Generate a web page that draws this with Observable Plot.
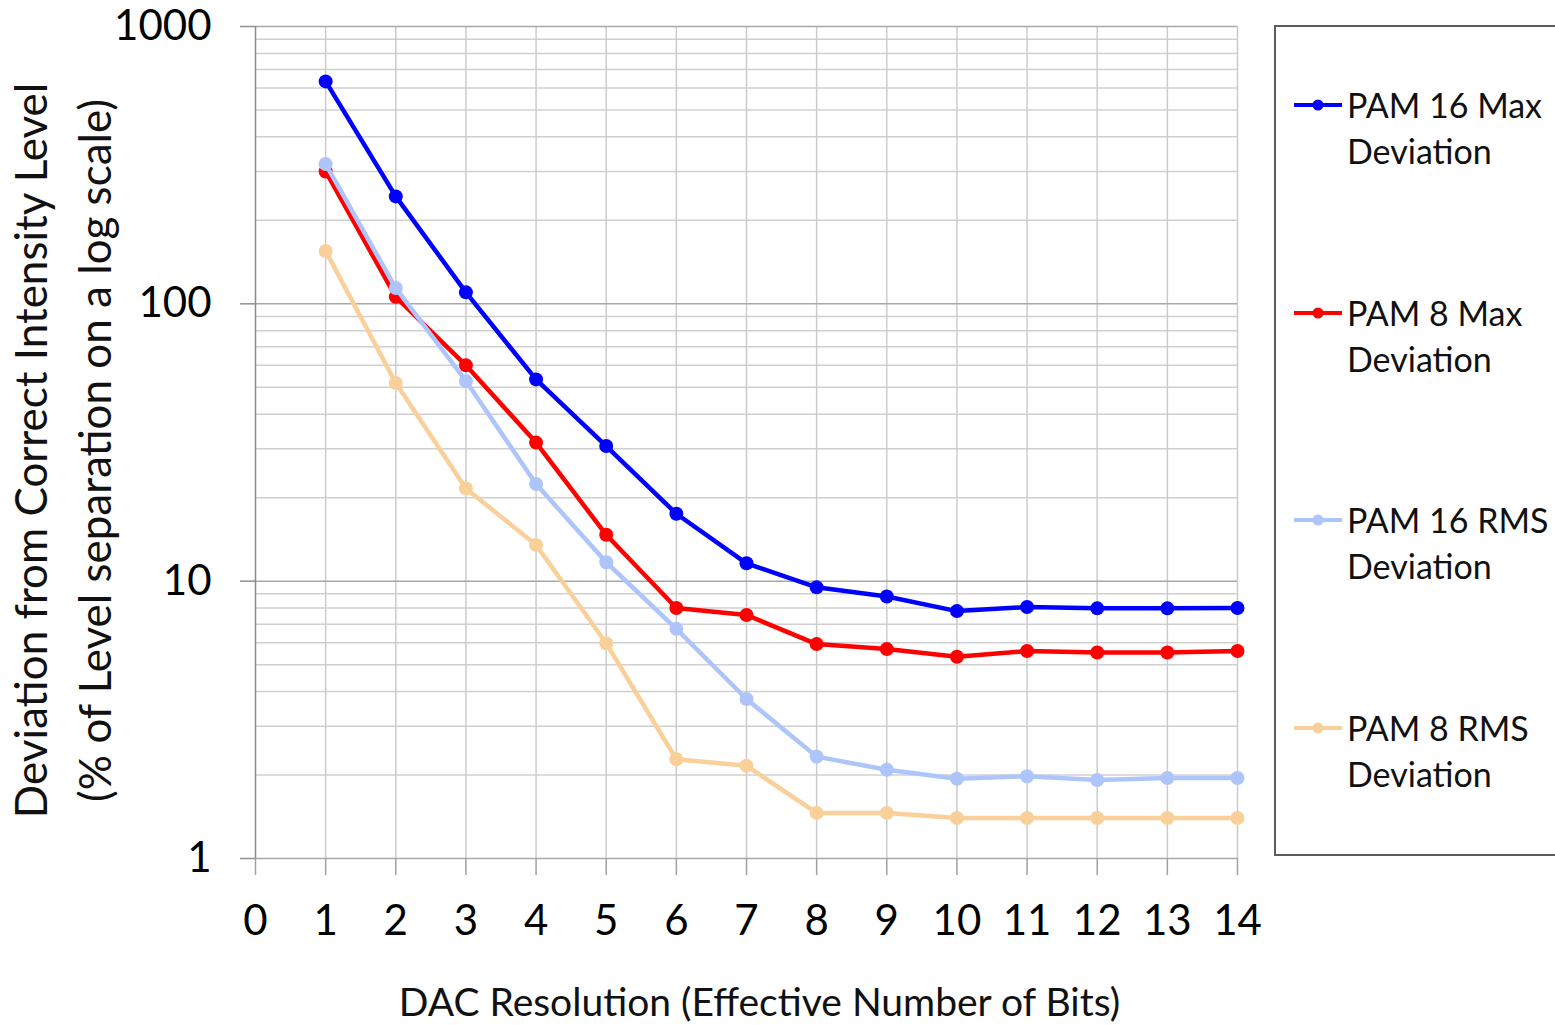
<!DOCTYPE html>
<html>
<head>
<meta charset="utf-8">
<script src="https://cdn.jsdelivr.net/npm/d3@7"></script>
<script src="https://cdn.jsdelivr.net/npm/@observablehq/plot@0.6"></script>
<style>
  html, body { margin: 0; padding: 0; background: #fff; overflow: hidden; }
  #chart { position: relative; width: 1555px; height: 1025px; font-family: Lato, "Open Sans", sans-serif; }
  #chart > svg { position: absolute; left: 0; top: 0; }
  #legend { position: absolute; left: 1274px; top: 25px; width: 340px; height: 831px;
            border: 2px solid #5c5c5c; box-sizing: border-box; background: #fff; }
  .entry { position: absolute; left: 17px; display: flex; align-items: flex-start; }
  .entry svg { display: block; flex: none; }
  .entry .name { margin-left: 4px; font-size: 34px; line-height: 46px; color: #111; white-space: nowrap; }
</style>
</head>
<body>
<div id="chart"></div>
<script>
// DAC resolution in effective bits
const bits = [1, 2, 3, 4, 5, 6, 7, 8, 9, 10, 11, 12, 13, 14];

// Deviation from the correct intensity level, % of level separation
const pam16Max = [634, 244, 110, 53.4, 30.7, 17.5, 11.6, 9.5, 8.8, 7.8, 8.07, 7.98, 7.98, 8.0];
const pam8Max  = [300, 106, 60, 31.6, 14.7, 8.0, 7.55, 5.93, 5.69, 5.34, 5.6, 5.53, 5.53, 5.6];
const pam16Rms = [319, 114, 52.7, 22.4, 11.7, 6.73, 3.76, 2.33, 2.09, 1.94, 1.98, 1.92, 1.95, 1.95];
const pam8Rms  = [155, 51.8, 21.6, 13.5, 5.97, 2.28, 2.16, 1.46, 1.46, 1.40, 1.40, 1.40, 1.40, 1.40];

const seriesNames = ["PAM 16 Max Deviation", "PAM 8 Max Deviation", "PAM 16 RMS Deviation", "PAM 8 RMS Deviation"];
const seriesValues = [pam16Max, pam8Max, pam16Rms, pam8Rms];
const seriesColors = ["#0000ff", "#ff0000", "#adc5fa", "#f9d09a"];

// Axis ticks
const xTicks = [0, 1, 2, 3, 4, 5, 6, 7, 8, 9, 10, 11, 12, 13, 14];
const yMajor = [1, 10, 100, 1000];
const yMinor = [2, 3, 4, 5, 6, 7, 8, 9, 20, 30, 40, 50, 60, 70, 80, 90, 200, 300, 400, 500, 600, 700, 800, 900];

const xTitle = "DAC Resolution (Effective Number of Bits)";
const yTitle = "Deviation from Correct Intensity Level\n(% of Level separation on a log scale)";

const series = seriesNames.map((name, k) => ({
  name,
  color: seriesColors[k],
  rows: bits.map((b, i) => ({bits: b, value: seriesValues[k][i]}))
}));

const fontFamily = "Lato, 'Open Sans', sans-serif";

const chart = Plot.plot({
  width: 1555,
  height: 1025,
  marginLeft: 255,
  marginRight: 318,
  marginTop: 26,
  marginBottom: 167,
  style: {fontFamily, fontSize: "42px", color: "#000", background: "transparent", overflow: "visible"},
  x: {domain: [0, 14]},
  y: {type: "log", domain: [1, 1000]},
  marks: [
    Plot.gridY(yMinor, {stroke: "#d0d0d0", strokeOpacity: 1, strokeWidth: 1.5}),
    Plot.gridX(xTicks.filter(d => d > 0), {stroke: "#cccccc", strokeOpacity: 1, strokeWidth: 1.5}),
    Plot.gridY(yMajor, {stroke: "#a8a8a8", strokeOpacity: 1, strokeWidth: 1.5}),
    Plot.ruleX([0], {stroke: "#8c8c8c", strokeWidth: 1.5}),
    Plot.axisX(xTicks, {tickSize: 17, tickPadding: 30, stroke: "#a0a0a0", strokeWidth: 1.5,
                        fontSize: 42, label: null, tickFormat: d => String(d)}),
    Plot.axisY(yMajor, {tickSize: 15, tickPadding: 29, stroke: "#909090", strokeWidth: 1.5,
                        fontSize: 42, label: null, tickFormat: d => String(d)}),
    Plot.text([xTitle], {frameAnchor: "bottom", dx: 13, dy: 145, lineAnchor: "middle",
                         fontSize: 39, fill: "#111"}),
    Plot.text([yTitle], {frameAnchor: "left", textAnchor: "middle", rotate: -90, dx: -197, dy: 8,
                         lineAnchor: "middle", lineHeight: 1.45, fontSize: 44, fill: "#111"}),
    ...series.flatMap(s => [
      Plot.line(s.rows, {x: "bits", y: "value", stroke: s.color, strokeWidth: 4.5}),
      Plot.dot(s.rows, {x: "bits", y: "value", fill: s.color, r: 7})
    ])
  ]
});

const root = document.getElementById("chart");
root.appendChild(chart);

// Legend box on the right, one entry per series (two-line names)
const legend = d3.select(root).append("div").attr("id", "legend");
series.forEach((s, k) => {
  const entry = legend.append("div").attr("class", "entry").style("top", (55 + k * 207.7) + "px");
  const sw = entry.append("svg").attr("width", 50).attr("height", 46);
  sw.append("line").attr("x1", 1).attr("x2", 49).attr("y1", 23).attr("y2", 23)
    .attr("stroke", s.color).attr("stroke-width", 4);
  sw.append("circle").attr("cx", 25).attr("cy", 23).attr("r", 5.5).attr("fill", s.color);
  const words = s.name.split(" ");
  entry.append("div").attr("class", "name")
    .html(words.slice(0, -1).join(" ") + "<br>" + words[words.length - 1]);
});
</script>
</body>
</html>
